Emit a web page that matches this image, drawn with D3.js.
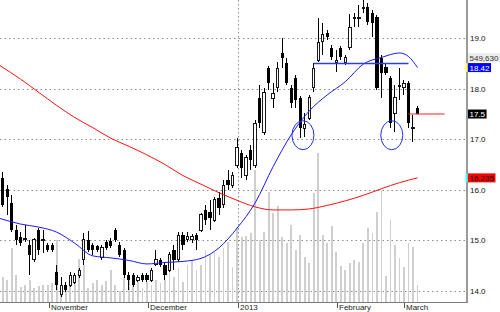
<!DOCTYPE html>
<html>
<head>
<meta charset="utf-8">
<script src="https://cdn.jsdelivr.net/npm/d3@7"></script>
<style>
  body { margin: 0; background: #fff; }
  svg { display: block; font-family: "Liberation Sans", Arial, sans-serif; }
</style>
</head>
<body>
<svg id="chart" width="500" height="312"></svg>
<script>
// daily candles, index 0..92
const opens = [
  16.23,16.02,15.74,15.20,15.06,15.01,14.91,14.61,15.20,14.99,
  14.91,14.91,14.37,13.92,14.11,14.11,14.17,14.31,14.61,15.01,
  14.91,14.89,14.65,14.97,14.99,15.20,14.91,14.81,14.31,14.31,
  14.21,14.31,14.31,14.21,14.51,14.61,14.51,14.41,14.81,14.61,
  15.10,15.01,15.01,15.10,15.20,15.60,15.56,15.40,15.84,15.70,
  16.19,16.09,16.49,16.73,16.29,16.79,16.49,17.82,17.14,18.41,
  17.80,18.02,18.71,18.51,18.02,18.21,17.82,17.22,17.42,18.02,
  18.57,18.93,19.10,18.81,18.53,18.81,18.53,18.81,19.40,19.40,
  19.60,19.62,19.50,19.42,18.61,18.43,18.21,17.52,18.05,18.02,
  18.11,17.22,17.62];
const highs = [
  16.35,16.09,15.90,15.30,15.16,15.30,15.01,15.04,15.24,15.20,
  14.95,14.95,14.51,14.27,14.17,14.37,14.35,14.45,15.14,15.18,
  14.95,14.91,14.91,15.01,15.04,15.24,14.97,14.85,14.37,14.35,
  14.31,14.35,14.35,14.45,14.81,14.65,14.57,14.77,14.91,15.16,
  15.16,15.16,15.12,15.14,15.54,15.70,15.80,15.86,15.96,16.19,
  16.39,16.35,17.03,16.79,16.69,16.89,17.38,18.07,18.02,18.45,
  18.11,18.53,19.01,18.61,18.07,18.27,17.86,17.52,17.88,18.51,
  19.40,19.30,19.16,18.87,18.77,18.85,18.67,19.48,19.50,19.66,
  19.76,19.70,19.56,19.46,18.67,18.51,18.25,18.07,18.41,18.17,
  18.15,17.48,17.66];
const lows = [
  15.66,15.50,15.16,14.91,14.89,14.97,14.31,14.57,14.71,14.75,
  14.77,14.77,14.02,13.88,13.97,14.07,14.13,14.25,14.51,14.77,
  14.71,14.77,14.61,14.81,14.85,14.97,14.67,14.25,14.02,14.07,
  14.17,14.17,14.17,14.17,14.49,14.47,14.21,14.37,14.41,14.57,
  14.81,14.97,14.95,14.81,15.16,15.30,15.20,15.36,15.50,15.64,
  16.00,16.03,16.43,16.23,16.19,16.39,16.43,17.22,17.08,17.98,
  17.62,17.94,18.41,18.07,17.62,17.62,17.03,17.05,17.38,17.94,
  18.53,18.67,18.97,18.57,18.33,18.57,18.47,18.77,19.22,19.22,
  19.50,19.26,19.03,17.98,17.82,18.27,17.22,17.14,17.78,17.88,
  17.22,16.95,17.50];
const closes = [
  15.70,15.86,15.20,15.01,14.95,15.03,14.71,15.01,14.81,15.01,
  14.81,14.81,14.11,14.11,14.02,14.31,14.31,14.41,15.01,14.81,
  14.81,14.81,14.85,14.85,14.89,15.01,14.71,14.31,14.21,14.11,
  14.27,14.21,14.21,14.41,14.61,14.51,14.31,14.71,14.61,15.10,
  14.91,15.08,15.08,15.01,15.50,15.40,15.44,15.80,15.64,16.09,
  16.09,16.29,16.83,16.43,16.63,16.59,17.32,17.32,17.92,18.11,
  17.90,18.41,18.61,18.11,17.72,17.78,17.22,17.30,17.82,18.41,
  18.91,19.07,19.03,18.63,18.57,18.63,18.61,19.22,19.42,19.42,
  19.62,19.32,19.30,18.02,18.31,18.31,17.32,17.82,18.07,18.11,
  17.32,17.24,17.50];
// volume in thousands
const volumes = [
  800,710,1740,870,480,550,710,450,520,550,
  550,610,2000,390,520,550,610,1400,1190,450,
  610,710,550,680,1030,550,350,770,710,550,
  650,450,650,550,710,610,710,1030,810,1100,
  650,1190,1350,1030,1190,1680,1520,1610,1450,1740,
  1940,1130,2420,2100,2130,2230,4260,2000,2260,3550,
  2870,3100,2100,1900,2480,1680,2160,1450,1260,3520,
  4810,2160,1900,2450,1610,1160,1030,1260,1350,1290,
  1900,2390,2230,2900,3610,840,2650,1840,1420,1130,
  1900,1770,549.63];

// moving averages read at these candle indices
const maIdx = [-0.6,4,8,12,16,20,24,28,32,36,40,44,48,52,56,60,64,68,72,76,80,84,88,90,92];
const redMA = [18.46,18.19,17.93,17.67,17.43,17.23,17.02,16.86,16.69,16.50,16.28,16.11,15.94,15.79,15.66,15.60,15.60,15.62,15.69,15.78,15.89,16.02,16.14,16.19,16.235];
const blueMA = [15.43,15.32,15.26,15.16,14.94,14.69,14.65,14.60,14.53,14.56,14.58,14.64,14.85,15.24,15.74,16.46,17.09,17.56,17.88,18.14,18.49,18.62,18.71,18.64,18.42];

const monthLabels = ["November", "December", "2013", "February", "March"];
const monthIdx = [10.35, 32.3, 52.1, 74.2, 89];
const priceTicks = [14, 15, 16, 17, 18, 19];

const blueLevel = { from: 69, to: 90, value: 18.5 };
const redLevel = { from: 90, to: 98, value: 17.5 };
const circleMarks = [{ i: 66.6, p: 17.08 }, { i: 86.3, p: 17.08 }];

const plot = { left: 0, right: 467, top: 0, bottom: 302 };

const svg = d3.select("#chart");

const x = d3.scaleLinear().domain([0, 92]).range([2.6, 417.5]);
const y = d3.scaleLinear().domain([14, 19]).range([290.7, 38.3]);
const yVol = d3.scaleLinear().domain([0, 5000]).range([plot.bottom, plot.bottom - 155]);

svg.append("rect").attr("width", 500).attr("height", 312).attr("fill", "#fff");

// volume
svg.append("g")
  .attr("fill", "#cfcfcf")
  .attr("shape-rendering", "crispEdges")
  .selectAll("rect")
  .data(volumes)
  .join("rect")
  .attr("x", (d, i) => x(i) - 0.9)
  .attr("width", 1.8)
  .attr("y", (d) => yVol(d))
  .attr("height", (d) => plot.bottom - yVol(d));

// grid
svg.append("g")
  .attr("stroke", "#8c8c8c")
  .attr("stroke-dasharray", "1.5,3")
  .selectAll("line")
  .data(priceTicks)
  .join("line")
  .attr("x1", plot.left)
  .attr("x2", plot.right - 2)
  .attr("y1", (d) => Math.round(y(d)) + 0.5)
  .attr("y2", (d) => Math.round(y(d)) + 0.5);

svg.append("line")
  .attr("x1", Math.round(x(monthIdx[2])) + 0.5)
  .attr("x2", Math.round(x(monthIdx[2])) + 0.5)
  .attr("y1", plot.top)
  .attr("y2", plot.bottom)
  .attr("stroke", "#8c8c8c")
  .attr("stroke-dasharray", "1.5,2.5");

// candles
const candles = closes.map((c, i) => ({ i, o: opens[i], h: highs[i], l: lows[i], c }));

const cg = svg.append("g").attr("shape-rendering", "crispEdges");

cg.selectAll("line")
  .data(candles)
  .join("line")
  .attr("x1", (d) => x(d.i))
  .attr("x2", (d) => x(d.i))
  .attr("y1", (d) => y(d.h))
  .attr("y2", (d) => y(d.l))
  .attr("stroke", "#000")
  .attr("stroke-width", 1);

cg.selectAll("rect")
  .data(candles)
  .join("rect")
  .attr("x", (d) => x(d.i) - (d.c < d.o ? 1.6 : 1.2))
  .attr("width", (d) => (d.c < d.o ? 3.2 : 2.4))
  .attr("y", (d) => y(Math.max(d.o, d.c)))
  .attr("height", (d) => Math.max(1, Math.abs(y(d.o) - y(d.c))))
  .attr("fill", (d) => (d.c < d.o ? "#000" : "#fff"))
  .attr("stroke", (d) => (d.c < d.o ? "none" : "#000"))
  .attr("stroke-width", 0.9);

// moving averages
const line = d3.line().x((d) => x(d[0])).y((d) => y(d[1])).curve(d3.curveMonotoneX);

svg.append("path")
  .datum(d3.zip(maIdx, redMA))
  .attr("fill", "none")
  .attr("stroke", "#ff1010")
  .attr("stroke-width", 1)
  .attr("d", line);

svg.append("path")
  .datum(d3.zip(maIdx, blueMA))
  .attr("fill", "none")
  .attr("stroke", "#1a1aff")
  .attr("stroke-width", 1)
  .attr("d", line);

// level lines
svg.append("line")
  .attr("x1", x(blueLevel.from)).attr("x2", x(blueLevel.to))
  .attr("y1", y(blueLevel.value)).attr("y2", y(blueLevel.value))
  .attr("stroke", "#2a3cff").attr("stroke-width", 1.4);

svg.append("line")
  .attr("x1", x(redLevel.from)).attr("x2", x(redLevel.to))
  .attr("y1", y(redLevel.value)).attr("y2", y(redLevel.value))
  .attr("stroke", "#ff2020").attr("stroke-width", 1);

svg.append("g")
  .selectAll("ellipse")
  .data(circleMarks)
  .join("ellipse")
  .attr("cx", (d) => x(d.i))
  .attr("cy", (d) => y(d.p))
  .attr("rx", 11)
  .attr("ry", 14.5)
  .attr("fill", "none")
  .attr("stroke", "#2030ff")
  .attr("stroke-width", 1);

// axes frame
svg.append("line")
  .attr("x1", plot.right).attr("x2", plot.right)
  .attr("y1", plot.top).attr("y2", plot.bottom + 1)
  .attr("stroke", "#7a7a7a").attr("stroke-width", 1.5);
svg.append("line")
  .attr("x1", plot.left).attr("x2", plot.right)
  .attr("y1", plot.bottom + 0.5).attr("y2", plot.bottom + 0.5)
  .attr("stroke", "#7a7a7a").attr("stroke-width", 1.2);

// price labels
svg.append("g")
  .selectAll("text")
  .data(priceTicks)
  .join("text")
  .attr("x", 470)
  .attr("y", (d) => y(d) + 3)
  .attr("font-size", 8)
  .attr("fill", "#111")
  .text((d) => d3.format(".1f")(d));

// month ticks
const mg = svg.append("g");
mg.selectAll("line")
  .data(monthIdx)
  .join("line")
  .attr("x1", (d) => Math.round(x(d)) + 0.5)
  .attr("x2", (d) => Math.round(x(d)) + 0.5)
  .attr("y1", plot.bottom + 1)
  .attr("y2", plot.bottom + 6)
  .attr("stroke", "#555");
mg.selectAll("text")
  .data(monthIdx)
  .join("text")
  .attr("x", (d) => Math.round(x(d)) + 2)
  .attr("y", 310)
  .attr("font-size", 8)
  .attr("fill", "#222")
  .text((d, i) => monthLabels[i]);

// value tags on the right axis
const lastVol = volumes[volumes.length - 1];
const tags = [
  { text: String(blueMA[blueMA.length - 1]), yc: y(blueMA[blueMA.length - 1]), bg: "#0000ff", fg: "#fff", mark: "#ffff40" },
  { text: String(closes[closes.length - 1]), yc: y(closes[closes.length - 1]), bg: "#000", fg: "#fff" },
  { text: String(redMA[redMA.length - 1]), yc: y(redMA[redMA.length - 1]), bg: "#ff0000", fg: "#000", mark: "#40ffff" },
];
// volume tag sits just above the blue tag
tags.push({ text: d3.format(",")(Math.round(lastVol * 1000)), yc: tags[0].yc - 10, bg: "#ececec", fg: "#333" });

tags.forEach((t) => {
  const g = svg.append("g");
  const rect = g.append("rect").attr("fill", t.bg);
  const txt = g.append("text")
    .attr("x", 469.5)
    .attr("y", t.yc + 3)
    .attr("font-size", 8)
    .attr("fill", t.fg)
    .text(t.text);
  const w = txt.node().getComputedTextLength();
  rect.attr("x", 468).attr("y", t.yc - 4.5).attr("width", w + 3).attr("height", 9);
  if (t.mark) {
    g.append("rect").attr("x", 465.5).attr("y", t.yc - 4.5).attr("width", 2).attr("height", 9).attr("fill", t.mark);
  }
});
</script>
</body>
</html>
